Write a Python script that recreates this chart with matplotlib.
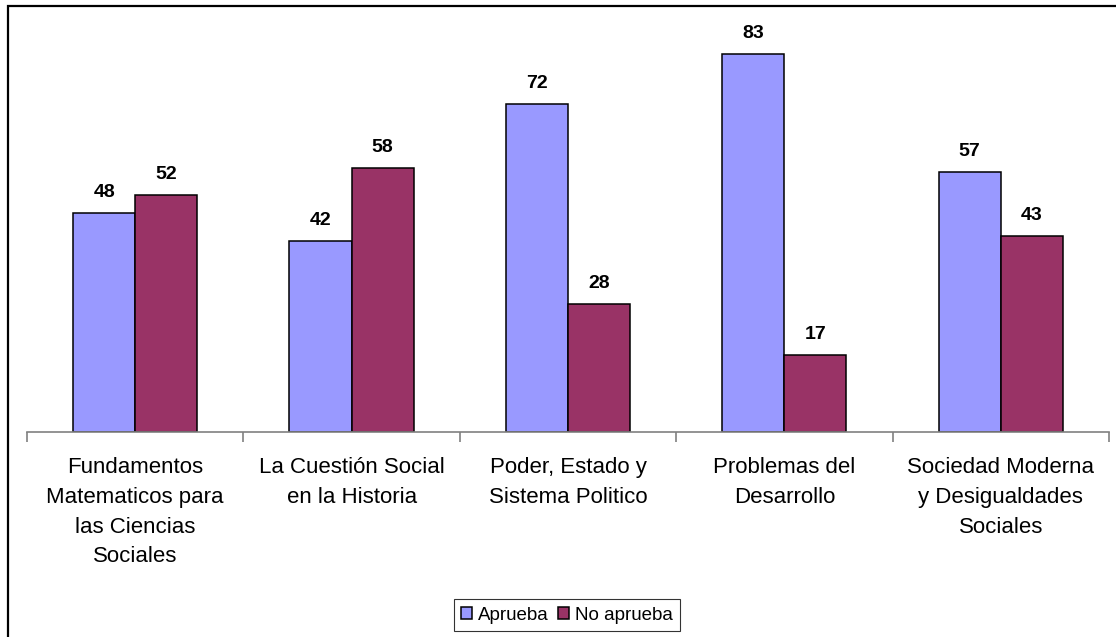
import matplotlib.pyplot as plt
import numpy as np
from matplotlib.patches import Rectangle

plt.rcParams['font.family'] = ['Liberation Sans', 'DejaVu Sans']

# data
categorias = ['Fundamentos\nMatematicos para\nlas Ciencias\nSociales',
              'La Cuestión Social\nen la Historia',
              'Poder, Estado y\nSistema Politico',
              'Problemas del\nDesarrollo',
              'Sociedad Moderna\ny Desigualdades\nSociales']
aprueba = [48, 42, 72, 83, 57]
no_aprueba = [52, 58, 28, 17, 43]

fig = plt.figure(figsize=(11.16, 6.37), dpi=100)
ax = fig.add_axes([0.0242, 0.3218, 0.9695, 0.644])

x = np.arange(len(categorias))
w = 0.287
b1 = ax.bar(x - w/2, aprueba, w, color='#9999FF', edgecolor='black', linewidth=1.1, label='Aprueba')
b2 = ax.bar(x + w/2, no_aprueba, w, color='#993366', edgecolor='black', linewidth=1.1, label='No aprueba')

for bars in (b1, b2):
    for r in bars:
        ax.annotate(f'{r.get_height():.0f}', (r.get_x() + r.get_width()/2, r.get_height()),
                    xytext=(0, 12), textcoords='offset pixels', ha='center', va='bottom',
                    fontsize=14, fontweight='bold')

ax.set_xlim(-0.5, len(categorias) - 0.5)
ax.set_ylim(0, 90)
ax.set_yticks([])
for s in ['top', 'right', 'left']:
    ax.spines[s].set_visible(False)
ax.spines['bottom'].set_color('#808080')
ax.spines['bottom'].set_linewidth(1.2)

# ticks at the category boundaries, labels centered
ax.set_xticks(np.arange(-0.5, len(categorias)), labels=[''] * (len(categorias) + 1))
ax.set_xticks(x, labels=categorias, minor=True)
ax.tick_params(axis='x', which='major', length=7, width=1.2, color='#808080', direction='out')
ax.tick_params(axis='x', which='minor', length=0, pad=18, labelsize=16)
for t in ax.get_xticklabels(minor=True):
    t.set_linespacing(1.55)

leg = fig.legend(loc='center', bbox_to_anchor=(567/1116, 1 - 615/637), ncol=2,
                 fontsize=13.5, frameon=True, fancybox=False, edgecolor='black',
                 handlelength=0.6, handleheight=0.6, handletextpad=0.3, columnspacing=0.5,
                 borderpad=0.4)
leg.get_frame().set_linewidth(0.8)

# outer chart border (clipped on right and bottom)
fig.patches.append(Rectangle((8/1116, -0.1), 1.2, 1 - 6/637 + 0.1, transform=fig.transFigure,
                             fill=False, edgecolor='black', linewidth=1.6))

fig.savefig('out.png', dpi=100)
